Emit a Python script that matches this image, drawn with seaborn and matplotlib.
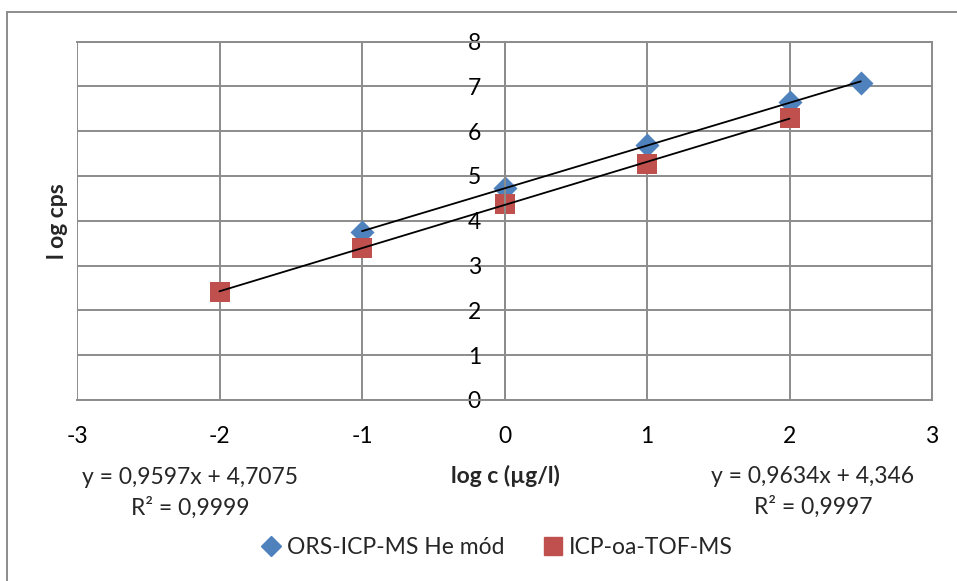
import matplotlib
matplotlib.use("Agg")
import matplotlib.pyplot as plt
from matplotlib.lines import Line2D
import seaborn as sns
import pandas as pd

# data
ors_x = [-1, 0, 1, 2, 2.5]
ors_y = [3.76, 4.72, 5.69, 6.66, 7.08]
tof_x = [-2, -1, 0, 1, 2]
tof_y = [2.42, 3.40, 4.37, 5.27, 6.30]

ors_name = "ORS-ICP-MS He mód"
tof_name = "ICP-oa-TOF-MS"
ors_eq = "y = 0,9597x + 4,7075\nR² = 0,9999"
tof_eq = "y = 0,9634x + 4,346\nR² = 0,9997"

blue = "#4F81BD"
red = "#C0504D"
grid = "#8C8C8C"
fs = 16.5

ors = pd.DataFrame({"x": ors_x, "y": ors_y})
tof = pd.DataFrame({"x": tof_x, "y": tof_y})

sns.set_style("white")
plt.rcParams["font.family"] = ["Lato", "DejaVu Sans"]
plt.rcParams["axes.unicode_minus"] = False

fig = plt.figure(figsize=(9.57, 5.81), dpi=100)
ax = fig.add_axes([77 / 957, 1 - 400 / 581, (932 - 77) / 957, (400 - 41.5) / 581])

sns.scatterplot(data=ors, x="x", y="y", marker="D", color=blue, s=150,
                linewidth=0, ax=ax, zorder=2)
sns.scatterplot(data=tof, x="x", y="y", marker="s", color=red, s=200,
                linewidth=0, ax=ax, zorder=2)

# trend lines
sns.regplot(data=ors, x="x", y="y", scatter=False, ci=None,
            color="black", line_kws={"lw": 1.3, "zorder": 3}, ax=ax)
sns.regplot(data=tof, x="x", y="y", scatter=False, ci=None,
            color="black", line_kws={"lw": 1.3, "zorder": 3}, ax=ax)

ax.set_xlim(-3, 3)
ax.set_ylim(0, 8)
ax.set_xticks(range(-3, 4))
ax.set_yticks(range(0, 9))
ax.grid(True, color=grid, lw=1.4)
ax.set_axisbelow(True)
for s in ax.spines.values():
    s.set_color(grid)
    s.set_linewidth(1.4)
ax.spines["left"].set_position(("data", 0))
ax.tick_params(axis="both", length=0, labelsize=fs, labelcolor="black")
ax.tick_params(axis="y", pad=17)
ax.tick_params(axis="x", pad=19)
for lab in ax.get_yticklabels():
    lab.set_zorder(5)
ax.set_xlabel("")
ax.set_ylabel("")

fig.text(505 / 957, 1 - 476 / 581, "log c (µg/l)", ha="center", va="center",
         fontsize=fs, fontweight="bold")
fig.text(58 / 957, 1 - 221 / 581, "l og cps", ha="center", va="center",
         rotation=90, fontsize=fs, fontweight="bold")

fig.text(190 / 957, 1 - 493 / 581, ors_eq, ha="center", va="center",
         fontsize=fs, linespacing=1.45, multialignment="center")
fig.text(813 / 957, 1 - 492 / 581, tof_eq, ha="center", va="center",
         fontsize=fs, linespacing=1.45, multialignment="center")

handles = [
    Line2D([], [], marker="D", ls="", color=blue, markersize=10),
    Line2D([], [], marker="s", ls="", color=red, markersize=13),
]
fig.legend(handles, [ors_name, tof_name], loc="center", ncol=2, frameon=False,
           bbox_to_anchor=(496 / 957, 1 - 548 / 581), fontsize=fs,
           handletextpad=0.2, columnspacing=1.6, handlelength=1.0)

# outer chart frame (only left and top visible)
fig.add_artist(Line2D([7 / 957, 7 / 957], [0, 1 - 12 / 581], color=grid, lw=1.4))
fig.add_artist(Line2D([7 / 957, 1], [1 - 12 / 581, 1 - 12 / 581], color=grid, lw=1.4))

fig.savefig("out.png", dpi=100)
